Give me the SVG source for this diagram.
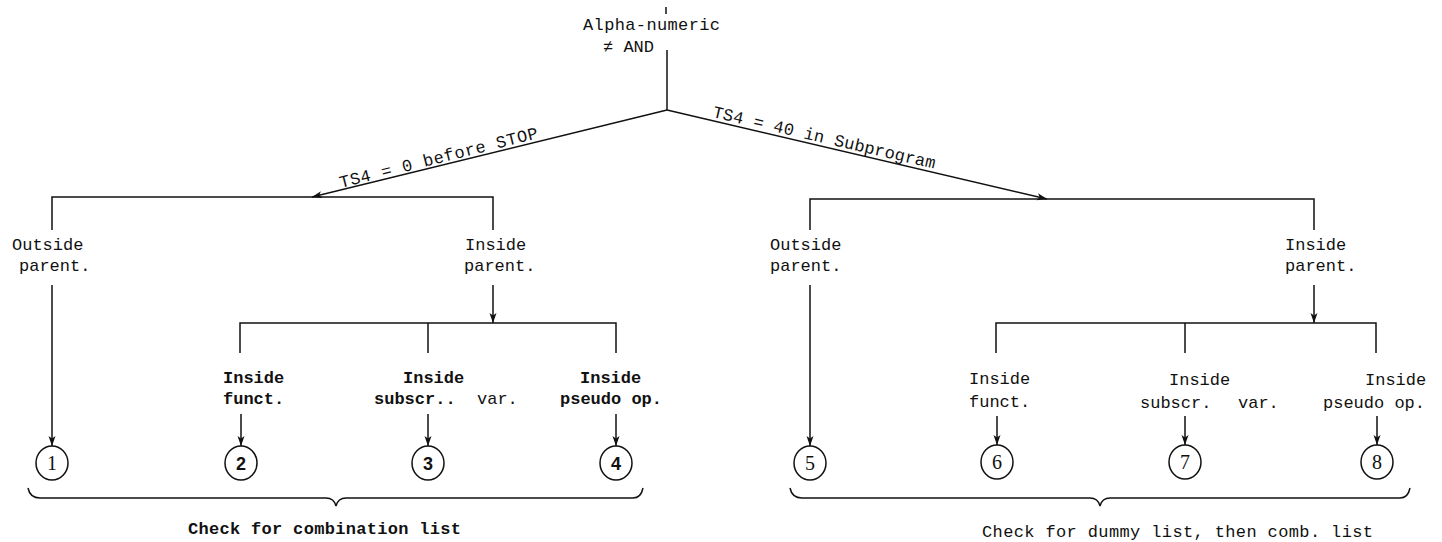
<svg xmlns="http://www.w3.org/2000/svg" width="1442" height="542" viewBox="0 0 1442 542">
<style>
  .t { font-family: "Liberation Mono", "DejaVu Sans Mono", monospace; font-size: 17px; fill: #111; }
  .b { font-weight: bold; }
  .n { font-family: "Liberation Serif", serif; font-size: 20px; fill: #111; }
  .nb { font-family: "Liberation Sans", sans-serif; font-size: 18px; font-weight: bold; fill: #111; }
  .ln { stroke: #111; stroke-width: 1.5; fill: none; }
  .c { stroke: #111; stroke-width: 1.5; fill: #fff; }
</style>
<defs>
  <marker id="ah" viewBox="0 0 10 10" refX="10" refY="5" markerWidth="10" markerHeight="10" markerUnits="userSpaceOnUse" orient="auto">
    <path d="M0,1.5 L10,5 L0,8.5 L2.5,5 Z" fill="#111"/>
  </marker>
</defs>
<rect width="1442" height="542" fill="#fff"/>

<g id="connectors">
  <line class="ln" x1="666" y1="7" x2="666" y2="14"/>
  <line class="ln" x1="667" y1="50" x2="667" y2="110"/>
  <line class="ln" x1="667" y1="110" x2="312" y2="197" marker-end="url(#ah)"/>
  <line class="ln" x1="667" y1="110" x2="1047" y2="199" marker-end="url(#ah)"/>
  <path class="ln" d="M52,230 V197 H493 V230"/>
  <line class="ln" x1="52" y1="285" x2="52" y2="446" marker-end="url(#ah)"/>
  <line class="ln" x1="493" y1="285" x2="493" y2="323" marker-end="url(#ah)"/>
  <path class="ln" d="M240,353 V323 H616 V353"/>
  <line class="ln" x1="428" y1="323" x2="428" y2="353"/>
  <line class="ln" x1="241" y1="414" x2="241" y2="446" marker-end="url(#ah)"/>
  <line class="ln" x1="428" y1="414" x2="428" y2="446" marker-end="url(#ah)"/>
  <line class="ln" x1="616" y1="414" x2="616" y2="446" marker-end="url(#ah)"/>
  <path class="ln" d="M810,230 V199 H1314 V230"/>
  <line class="ln" x1="810" y1="285" x2="810" y2="446" marker-end="url(#ah)"/>
  <line class="ln" x1="1314" y1="285" x2="1314" y2="323" marker-end="url(#ah)"/>
  <path class="ln" d="M996,353 V323 H1376 V353"/>
  <line class="ln" x1="1185" y1="323" x2="1185" y2="353"/>
  <line class="ln" x1="997" y1="416" x2="997" y2="445" marker-end="url(#ah)"/>
  <line class="ln" x1="1185" y1="416" x2="1185" y2="445" marker-end="url(#ah)"/>
  <line class="ln" x1="1377" y1="416" x2="1377" y2="445" marker-end="url(#ah)"/>
  <path class="ln" d="M28,488 Q30,498 40,498 L326,498 Q334,498 336,506 Q338,498 346,498 L633,498 Q641,498 643,488"/>
  <path class="ln" d="M790,488 Q792,498 802,498 L1090,498 Q1098,498 1100,506 Q1102,498 1110,498 L1400,498 Q1408,498 1410,488"/>
</g>

<g id="root">
  <text class="t" x="583" y="30" textLength="137" lengthAdjust="spacing">Alpha-numeric</text>
  <text class="t" x="603" y="52">≠ AND</text>
</g>

<g id="label-left-branch">
  <text class="t" transform="translate(341,188) rotate(-14.2)" textLength="204" lengthAdjust="spacing">TS4 = 0 before STOP</text>
</g>
<g id="label-right-branch">
  <text class="t" transform="translate(712,117) rotate(13.1)" textLength="228" lengthAdjust="spacing">TS4 = 40 in Subprogram</text>
</g>

<g id="outside-left">
  <text class="t" x="12" y="250">Outside</text>
  <text class="t" x="19" y="271">parent.</text>
</g>
<g id="inside-left">
  <text class="t" x="465" y="250">Inside</text>
  <text class="t" x="464" y="271">parent.</text>
</g>
<g id="inside-funct-left">
  <text class="t b" x="223" y="383">Inside</text>
  <text class="t b" x="223" y="404">funct.</text>
</g>
<g id="inside-subscr-left">
  <text class="t b" x="403" y="383">Inside</text>
  <text class="t b" x="374" y="404">subscr..</text>
  <text class="t" x="477" y="404">var.</text>
</g>
<g id="inside-pseudo-left">
  <text class="t b" x="580" y="383">Inside</text>
  <text class="t b" x="560" y="404">pseudo op.</text>
</g>

<g id="outside-right">
  <text class="t" x="770" y="250">Outside</text>
  <text class="t" x="770" y="271">parent.</text>
</g>
<g id="inside-right">
  <text class="t" x="1285" y="250">Inside</text>
  <text class="t" x="1285" y="271">parent.</text>
</g>
<g id="inside-funct-right">
  <text class="t" x="969" y="384">Inside</text>
  <text class="t" x="969" y="407">funct.</text>
</g>
<g id="inside-subscr-right">
  <text class="t" x="1169" y="385">Inside</text>
  <text class="t" x="1140" y="408">subscr.</text>
  <text class="t" x="1238" y="408">var.</text>
</g>
<g id="inside-pseudo-right">
  <text class="t" x="1365" y="385">Inside</text>
  <text class="t" x="1323" y="408">pseudo op.</text>
</g>

<g id="c1"><ellipse class="c" cx="52" cy="463" rx="16" ry="17"/><text class="n" x="52" y="470" text-anchor="middle">1</text></g>
<g id="c2"><ellipse class="c" cx="241" cy="463" rx="16" ry="17"/><text class="nb" x="241" y="470" text-anchor="middle">2</text></g>
<g id="c3"><ellipse class="c" cx="428" cy="463" rx="16" ry="17"/><text class="nb" x="428" y="470" text-anchor="middle">3</text></g>
<g id="c4"><ellipse class="c" cx="616" cy="463" rx="16" ry="17"/><text class="nb" x="616" y="470" text-anchor="middle">4</text></g>
<g id="c5"><ellipse class="c" cx="810" cy="463" rx="16" ry="17"/><text class="n" x="810" y="470" text-anchor="middle">5</text></g>
<g id="c6"><ellipse class="c" cx="997" cy="462" rx="16" ry="17"/><text class="n" x="997" y="469" text-anchor="middle">6</text></g>
<g id="c7"><ellipse class="c" cx="1185" cy="462" rx="16" ry="17"/><text class="n" x="1185" y="469" text-anchor="middle">7</text></g>
<g id="c8"><ellipse class="c" cx="1377" cy="462" rx="16" ry="17"/><text class="n" x="1377" y="469" text-anchor="middle">8</text></g>

<g id="note-left">
  <text class="t b" x="188" y="534" textLength="273" lengthAdjust="spacing">Check for combination list</text>
</g>
<g id="note-right">
  <text class="t" x="982" y="537" textLength="391" lengthAdjust="spacing">Check for dummy list, then comb. list</text>
</g>
</svg>
